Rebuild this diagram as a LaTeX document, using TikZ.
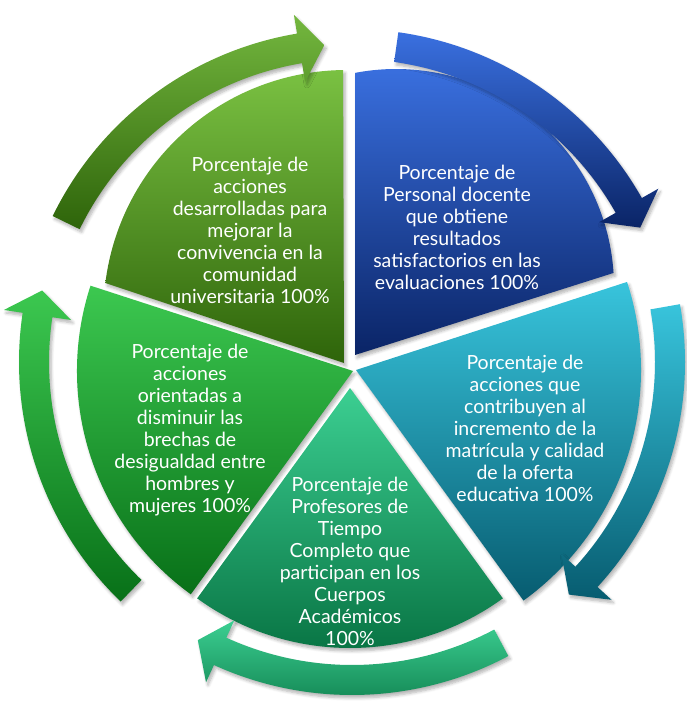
\documentclass[tikz,border=0pt]{standalone}
\usepackage{fontspec}
\setmainfont{Lato}
\usetikzlibrary{shadows.blur}

\definecolor{olivetop}{RGB}{122,193,66}
\definecolor{olivebot}{RGB}{46,100,10}
\definecolor{bluetop}{RGB}{58,112,224}
\definecolor{bluebot}{RGB}{10,36,102}
\definecolor{tealtop}{RGB}{56,196,220}
\definecolor{tealbot}{RGB}{7,92,112}
\definecolor{mintop}{RGB}{60,207,146}
\definecolor{minbot}{RGB}{6,112,64}
\definecolor{leaftop}{RGB}{60,200,80}
\definecolor{leafbot}{RGB}{8,112,24}

% curved arrow: tail angle, tip angle
\newcommand{\cyclearrow}[2]{%
  (#1:333) arc[start angle=#1, end angle=#2+4.5, radius=333]
  -- (#2+4.5:352) -- (#2:318) -- (#2+4.5:284) -- (#2+4.5:303)
  arc[start angle=#2+4.5, end angle=#1, radius=303] -- cycle}

\tikzset{
  soft/.style={blur shadow={shadow xshift=2pt, shadow yshift=-3pt,
      shadow opacity=30, shadow blur radius=3pt, shadow blur steps=6}},
  label/.style={text=white, align=center,
      font=\fontsize{19.5}{22}\selectfont}
}

\begin{document}
\begin{tikzpicture}[x=1pt, y=1pt]
        \useasboundingbox (-352,-347) rectangle (335,362);
        % segments
        \shade[soft, top color=bluetop, bottom color=bluebot]
          (3,7) -- ([shift={(44,75)}]3.7:218) arc[start angle=3.7, end angle=100.8, radius=218] -- cycle;
        \shade[soft, top color=olivetop, bottom color=olivebot]
          (-8,-1) -- ([shift={(-5.5,49)}]90.8:243) arc[start angle=90.8, end angle=172.9, radius=243] -- cycle;
        \shade[soft, top color=leaftop, bottom color=leafbot]
          (1,-9) -- ++(162:276) arc[start angle=162, end angle=234, radius=276] -- cycle;
        \shade[soft, top color=mintop, bottom color=minbot]
          (-2,-26) -- ++(234:260) arc[start angle=234, end angle=306, radius=260] -- cycle;
        \shade[soft, top color=tealtop, bottom color=tealbot]
          (4,-8) -- ++(-54:285) arc[start angle=-54, end angle=18, radius=285] -- cycle;
        % arrows
        \shade[soft, top color=olivetop!95!black, bottom color=olivebot] \cyclearrow{154}{95};
        \shade[soft, top color=bluetop, bottom color=bluebot] \cyclearrow{82}{25};
        \shade[soft, top color=tealtop, bottom color=tealbot] \cyclearrow{10}{-47};
        \shade[soft, top color=mintop, bottom color=minbot!80!mintop] \cyclearrow{-62}{-119};
        \shade[soft, top color=leaftop, bottom color=leafbot] \cyclearrow{-134}{-193};
        % texts
        \node[label] (convivencia) at (-102,132) {Porcentaje de\\acciones\\desarrolladas para\\mejorar la\\convivencia en la\\comunidad\\universitaria 100\%};
        \node[label] (docente) at (105,135) {Porcentaje de\\Personal docente\\que obtiene\\resultados\\satisfactorios en las\\evaluaciones 100\%};
        \node[label] (matricula) at (173,-66) {Porcentaje de\\acciones que\\contribuyen al\\incremento de la\\matrícula y calidad\\de la oferta\\educativa 100\%};
        \node[label] (cuerpos) at (-2,-199) {Porcentaje de\\Profesores de\\Tiempo\\Completo que\\participan en los\\Cuerpos\\Académicos\\100\%};
        \node[label] (brechas) at (-162,-68) {Porcentaje de\\acciones\\orientadas a\\disminuir las\\brechas de\\desigualdad entre\\hombres y\\mujeres 100\%};
      \end{tikzpicture}
\end{document}
